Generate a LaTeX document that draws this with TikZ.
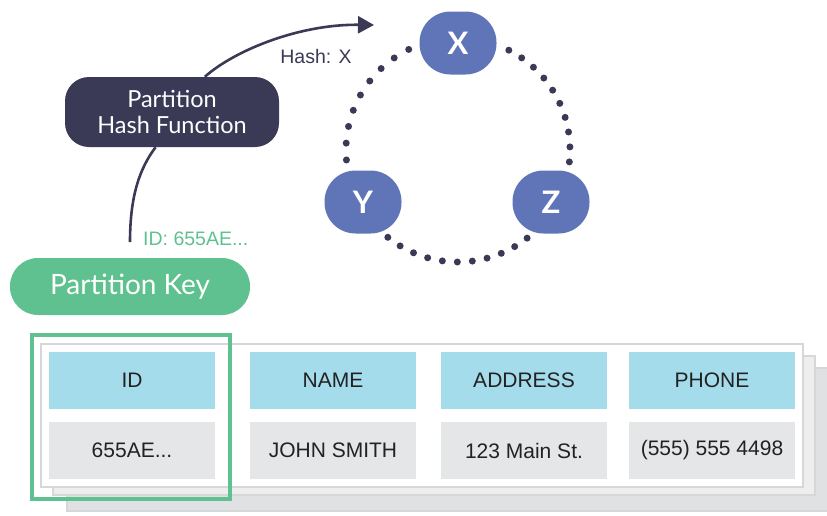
\documentclass[tikz,border=0pt]{standalone}
\usepackage{fontspec}
\setmainfont{Lato}
\newfontfamily\tablefont{Liberation Sans}
\usetikzlibrary{arrows.meta}

\definecolor{ink}{HTML}{3B3A56}
\definecolor{nodeblue}{HTML}{5F75B8}
\definecolor{keygreen}{HTML}{5EC18F}
\definecolor{headblue}{HTML}{A4DCEC}
\definecolor{valgray}{HTML}{E5E6E8}
\definecolor{cardedge}{HTML}{D6D7D9}
\definecolor{cardmid}{HTML}{EEEEEF}
\definecolor{cardback}{HTML}{E0E1E3}
\definecolor{txt}{HTML}{222222}

\tikzset{
  cell/.style={minimum width=166pt, minimum height=57pt, inner sep=0pt,
    text=txt, font=\tablefont\fontsize{21}{23}\selectfont},
  headcell/.style={cell, fill=headblue},
  valcell/.style={cell, fill=valgray},
  hashnode/.style={fill=nodeblue, rounded corners=31pt, minimum width=77pt,
    minimum height=63pt, inner sep=0pt, text=white,
    font=\fontsize{31}{32}\selectfont\bfseries},
  wire/.style={draw=ink, line width=2.6pt},
  ringdot/.style={fill=ink},
  card/.style={draw=cardedge, line width=1.4pt}
}

\begin{document}
\begin{tikzpicture}[x=1pt,y=-1pt]
\useasboundingbox (0,0) rectangle (827,515);
\clip (0,0) rectangle (827,515);

% stacked record cards
\draw[card, fill=cardback] (67,368) rectangle (840,511);
\draw[card, fill=cardmid] (53,356) rectangle (815,495);
\draw[card, fill=white] (41,344) rectangle (803,487);

% table cells
\node[headcell] (hid)    at (132,380.5) {ID};
\node[headcell] (hname)  at (333,380.5) {NAME};
\node[headcell] (haddr)  at (524,380.5) {ADDRESS};
\node[headcell] (hphone) at (712,380.5) {PHONE};
\node[valcell]  (vid)    at (132,450.5) {655AE...};
\node[valcell]  (vname)  at (333,450.5) {JOHN SMITH};
\node[valcell]  (vaddr)  at (524,450.5) {123 Main St.};
\node[valcell]  (vphone) at (712,450.5) {(555) 555 4498};

% key column highlight
\draw[draw=keygreen, line width=4pt] (32,335) rectangle (230,499);

% partition key and hash function
\node[fill=keygreen, rounded corners=28pt, minimum width=240pt, minimum height=57pt,
  inner sep=0pt, text=white, font=\fontsize{28}{30}\selectfont] (pk) at (130,286.5) {Partition Key};
\node[fill=ink, rounded corners=24pt, minimum width=214pt, minimum height=70pt,
  inner sep=0pt, text=white, align=center, font=\fontsize{23.5}{26}\selectfont]
  (hf) at (172,112) {Partition\\Hash Function};

% ring of partitions
\node[hashnode] (nx) at (458,43) {X};
\node[hashnode] (ny) at (363,202) {Y};
\node[hashnode] (nz) at (551,202) {Z};

\foreach \i in {0,...,8}
  \fill[ringdot] ({458+112*cos(116.1+\i*8.625)},{150-112*sin(116.1+\i*8.625)}) circle (3.5);
\foreach \i in {0,...,10}
  \fill[ringdot] ({458+112*cos(231.2+\i*7.69)},{150-112*sin(231.2+\i*7.69)}) circle (3.5);
\foreach \i in {0,...,9}
  \fill[ringdot] ({458+112*cos(-6.1+\i*7.68)},{150-112*sin(-6.1+\i*7.68)}) circle (3.5);

% connectors
\coordinate (kstart) at (130,242);
\coordinate (tip) at (374,25);
\draw[wire] (kstart) .. controls (130,195) and (140,168) .. (hf.245);
\draw[wire, -{Triangle[length=16pt,width=17pt]}] (hf.47) .. controls (235,50) and (300,24) .. (tip);

% labels
\node[text=ink, inner sep=0pt, font=\tablefont\fontsize{19.5}{21}\selectfont] (hashlbl) at (316,57) {Hash: X};
\node[anchor=west, inner sep=0pt, text=keygreen, font=\tablefont\fontsize{19.5}{21}\selectfont] (idlbl) at (143,239) {ID: 655AE...};
\end{tikzpicture}
\end{document}
